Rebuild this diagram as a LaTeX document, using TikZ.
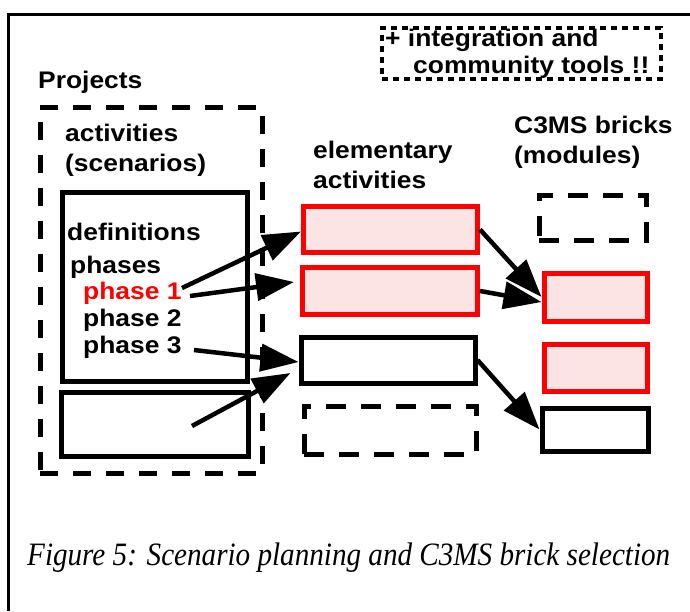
\documentclass[tikz,border=0pt]{standalone}
\usepackage{graphicx}
\usepackage{fontspec}
\setmainfont{Liberation Serif}
\newfontfamily\labelfont[FakeStretch=1.1]{Liberation Sans}
\usetikzlibrary{arrows.meta}
\definecolor{pinkfill}{HTML}{FDE4E4}

\begin{document}
\begin{tikzpicture}[x=1pt,y=-1pt,
  lbl/.style={anchor=base west, inner sep=0pt,
    font=\labelfont\bfseries\fontsize{24}{28}\selectfont},
  box/.style={draw, line width=5pt, inner sep=0pt},
  sz/.style 2 args={minimum width=#1pt, minimum height=#2pt},
  redbox/.style={box, draw=red, fill=pinkfill},
  dashbox/.style={box, dash pattern=on 20pt off 15pt},
  bigdash/.style={box, dash pattern=on 18pt off 15pt},
  dotbox/.style={box, line width=4.5pt, dash pattern=on 6pt off 5pt},
  arr/.style={line width=4.5pt, -{Triangle[length=38pt,width=27pt]}}]

\useasboundingbox (0,0) rectangle (690,611);

% open frame: top and left edges only
\draw[line width=3pt] (690,14) -- (8,14) -- (8,611);

% note box
\node[dotbox, sz={279}{51}] (note) at (521.5,53.5) {};
\node[lbl] (t1) at (385,46) {+ integration and};
\node[lbl] (t2) at (413,73) {community tools !!};

% projects column
\node[lbl] (proj) at (38,88) {Projects};
\node[bigdash, sz={222}{366}] (projbox) at (151,290) {};
\node[lbl] (act) at (65,141) {activities};
\node[lbl] (scen) at (65,171) {(scenarios)};
\node[box, sz={185}{189}] (defbox) at (154.5,286.5) {};
\node[box, sz={187}{64}] (lowbox) at (154.5,424) {};
\node[lbl] (defs) at (67,240) {definitions};
\node[lbl] (phs) at (70,273) {phases};
\node[lbl, text=red] (ph1) at (83,299) {phase 1};
\node[lbl] (ph2) at (83,326) {phase 2};
\node[lbl] (ph3) at (83,353) {phase 3};

% elementary activities column
\node[lbl] (ea) at (313,158) {elementary};
\node[lbl] (eb) at (313,188) {activities};
\node[redbox, sz={174}{46}] (ea1) at (390.5,229.5) {};
\node[redbox, sz={175}{47}] (ea2) at (390,291) {};
\node[box, sz={174}{46}] (ea3) at (388,360) {};
\node[dashbox, sz={172}{48}] (ea4) at (390,430) {};

% C3MS bricks column
\node[lbl] (mba) at (514,133) {C3MS bricks};
\node[lbl] (mbb) at (514,163) {(modules)};
\node[dashbox, sz={107}{45}] (mb1) at (592.5,217.5) {};
\node[redbox, sz={103}{48}] (mb2) at (595.5,297) {};
\node[redbox, sz={103}{47}] (mb3) at (595.5,367.5) {};
\node[box, sz={106}{43}] (mb4) at (595,429.5) {};

% arrow tails
\coordinate (s1) at (182,288);
\coordinate (s2) at (190,296);
\coordinate (s3) at (194,350);
\coordinate (s4) at (192,426);

% connectors
\draw[arr] (s1) -- ([yshift=-2pt]ea1.west);
\draw[arr] (s2) -- ([xshift=-6pt,yshift=9pt]ea2.west);
\draw[arr] (s3) -- ([yshift=-2pt]ea3.west);
\draw[arr] (s4) -- ([xshift=-8pt,yshift=-13pt]ea3.west);
\draw[arr] (ea1.east) -- (mb2.west);
\draw[arr] (ea2.east) -- ([yshift=-5pt]mb2.west);
\draw[arr] (ea3.east) -- (mb4.west);

% caption
\node[anchor=base west, inner sep=0pt] (cap) at (27,565)
  {\scalebox{1}[1.12]{\resizebox{643pt}{!}{\itshape\fontsize{30}{36}\selectfont Figure 5: Scenario planning and C3MS brick selection}}};
\end{tikzpicture}
\end{document}
